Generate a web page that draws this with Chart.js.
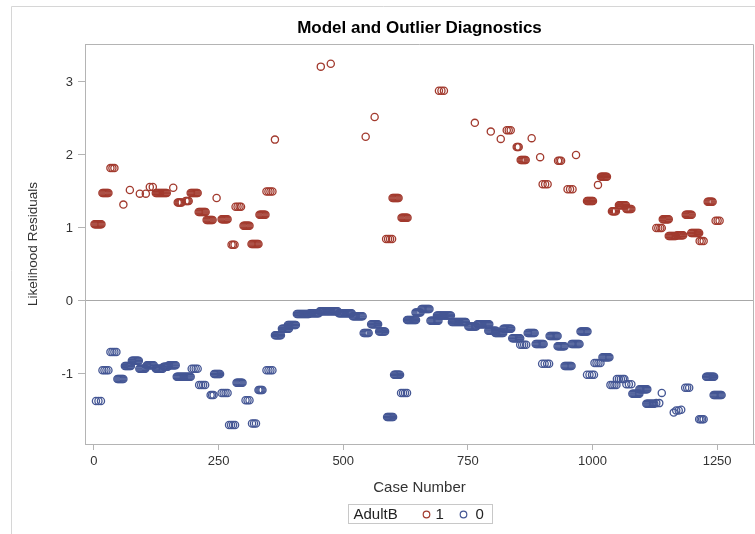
<!DOCTYPE html>
<html>
<head>
<meta charset="utf-8">
<script src="https://cdn.jsdelivr.net/npm/chart.js@4"></script>
<style>
  html, body { margin: 0; padding: 0; background: #fff; }
  #wrap { width: 755px; height: 534px; }
</style>
</head>
<body>
<div id="wrap"><canvas id="diagChart" width="755" height="534"></canvas></div>
<script>
const titleText = 'Model and Outlier Diagnostics';
const xTicks = [0, 250, 500, 750, 1000, 1250];
const yTicks = [-1, 0, 1, 2, 3];
const groupName = 'AdultB';
const groupLabels = ['1', '0'];
const groupColors = ['#A23A2E', '#445694'];

// [residual, [case numbers with that residual]]
const adult1Groups = [
    [1.05, [1, 3, 5, 7, 9, 11, 13, 15]], [1.48, [17, 19, 21, 23, 25, 27, 29]], [1.82, [33, 37, 41]],
    [1.32, [59]], [1.52, [72]], [1.47, [92, 104]], [1.56, [112, 118]],
    [1.48, [124, 126, 128, 130, 132, 134, 136, 138, 140, 142, 144, 146]], [1.55, [159]],
    [1.35, [168, 170, 172, 174, 176]], [1.37, [184, 186, 188, 190]],
    [1.48, [194, 196, 198, 200, 202, 204, 206, 208]],
    [1.22, [210, 212, 214, 216, 218, 220, 222, 224]], [1.11, [226, 228, 230, 232, 234, 236, 238]],
    [1.41, [246]], [1.12, [256, 258, 260, 262, 264, 266, 268]], [1.29, [284, 288, 292, 295]],
    [0.77, [276, 279, 282]], [1.03, [300, 302, 304, 306, 308, 310, 312]],
    [0.78, [316, 318, 320, 322, 324, 326, 328, 330]], [1.18, [332, 334, 336, 338, 340, 342, 344]],
    [1.50, [346, 350, 354, 358]], [2.21, [363]],
    [3.21, [455]], [3.25, [475]], [2.25, [545]], [2.52, [563]],
    [0.85, [586, 590, 594, 598]], [1.41, [599, 601, 603, 605, 607, 609, 611]],
    [1.14, [617, 619, 621, 623, 625, 627, 629]],
    [2.88, [692, 697, 702]], [2.44, [764]], [2.32, [796]], [2.22, [816]], [2.34, [828, 832, 836]],
    [2.11, [848, 850, 852]], [1.93, [856, 858, 860, 862, 864, 866]], [2.23, [878]], [1.97, [895]],
    [1.60, [900, 905, 910]], [1.92, [931, 934, 937]], [1.53, [950, 955, 960]], [2.00, [967]],
    [1.37, [989, 991, 993, 995, 997, 999, 1001]], [1.59, [1011]],
    [1.70, [1017, 1019, 1021, 1023, 1025, 1027, 1029]],
    [1.23, [1039, 1041, 1043, 1045, 1047]], [1.31, [1053, 1055, 1057, 1059, 1061, 1063, 1065, 1067]],
    [1.26, [1068, 1070, 1072, 1074, 1076, 1078]], [1.00, [1128, 1132, 1136, 1139]],
    [1.12, [1141, 1143, 1145, 1147, 1149, 1151, 1153]],
    [0.89, [1153, 1155, 1157, 1159, 1161, 1163, 1165, 1167]],
    [0.90, [1170, 1172, 1174, 1176, 1178, 1180, 1182]],
    [1.18, [1187, 1189, 1191, 1193, 1195, 1197, 1199]],
    [0.93, [1198, 1200, 1202, 1204, 1206, 1208, 1210, 1212, 1214]], [0.82, [1215, 1219, 1223]],
    [1.36, [1231, 1233, 1235, 1237, 1239, 1241]], [1.10, [1247, 1251, 1255]]
];

const adult0Groups = [
    [-1.37, [4, 9, 14]], [-0.95, [17, 21, 25, 29]], [-0.70, [33, 37, 41, 45]],
    [-1.07, [47, 49, 51, 53, 55, 57, 59]], [-0.89, [62, 64, 66, 68, 70, 72, 74]],
    [-0.82, [76, 78, 80, 82, 84, 86, 88, 90]], [-0.93, [91, 93, 95, 97, 99, 101, 103]],
    [-0.88, [106, 108, 110, 112, 114, 116, 118, 120]],
    [-0.93, [124, 126, 128, 130, 132, 134, 136, 138]], [-0.90, [140, 142, 144, 146, 148]],
    [-0.88, [150, 152, 154, 156, 158, 160, 162, 164]],
    [-0.93, [196, 200, 204, 208]],
    [-1.04, [166, 168, 170, 172, 174, 176, 178, 180, 182, 184, 186, 188, 190, 192, 194]],
    [-1.15, [211, 215, 219, 223]], [-1.29, [234, 237, 240]], [-1.26, [256, 260, 264, 268]],
    [-1.00, [241, 243, 245, 247, 249, 251, 253]], [-1.70, [271, 275, 279, 283]],
    [-1.12, [286, 288, 290, 292, 294, 296, 298]], [-1.36, [304, 308, 312]], [-1.68, [317, 321, 325]],
    [-1.22, [330, 332, 334, 336, 338]], [-0.95, [346, 350, 354, 358]],
    [-0.47, [363, 365, 367, 369, 371, 373, 375]],
    [-0.38, [377, 379, 381, 383, 385, 387, 389, 391]],
    [-0.33, [389, 391, 393, 395, 397, 399, 401, 403, 405]],
    [-0.18, [407, 409, 411, 413, 415, 417, 419, 421, 423, 425, 427, 429, 431]],
    [-0.17, [433, 435, 437, 439, 441, 443, 445, 447, 449, 451]],
    [-0.14, [453, 455, 457, 459, 461, 463, 465, 467, 469, 471, 473, 475, 477, 479, 481, 483, 485, 487, 489]],
    [-0.17, [491, 493, 495, 497, 499, 501, 503, 505, 507, 509, 511, 513, 515, 517]],
    [-0.21, [519, 521, 523, 525, 527, 529, 531, 533, 535, 537, 539]],
    [-0.44, [541, 543, 545, 547, 549, 551]],
    [-0.32, [556, 558, 560, 562, 564, 566, 568, 570]],
    [-0.42, [572, 574, 576, 578, 580, 582, 584]],
    [-1.59, [588, 590, 592, 594, 596, 598, 600]],
    [-1.01, [602, 604, 606, 608, 610, 612, 614]],
    [-1.26, [616, 620, 624, 628]],
    [-0.26, [628, 630, 632, 634, 636, 638, 640, 642, 644, 646]],
    [-0.16, [645, 647, 649, 651, 653, 655]],
    [-0.11, [657, 659, 661, 663, 665, 667, 669, 671, 673]],
    [-0.27, [675, 677, 679, 681, 683, 685, 687, 689, 691]],
    [-0.20, [688, 690, 692, 694, 696, 698, 700, 702, 704, 706, 708, 710, 712, 714, 716]],
    [-0.29, [718, 720, 722, 724, 726, 728, 730, 732, 734, 736, 738, 740, 742, 744, 746]],
    [-0.35, [751, 753, 755, 757, 759, 761, 763, 765, 767]],
    [-0.32, [769, 771, 773, 775, 777, 779, 781, 783, 785, 787, 789, 791, 793]],
    [-0.41, [791, 793, 795, 797, 799, 801, 803, 805, 807]],
    [-0.44, [805, 807, 809, 811, 813, 815, 817, 819, 821]],
    [-0.38, [821, 823, 825, 827, 829, 831, 833, 835, 837]],
    [-0.51, [839, 841, 843, 845, 847, 849, 851, 853, 855]],
    [-0.60, [855, 859, 863, 867]],
    [-0.44, [870, 872, 874, 876, 878, 880, 882, 884]],
    [-0.59, [886, 888, 890, 892, 894, 896, 898, 900, 902]],
    [-0.48, [914, 916, 918, 920, 922, 924, 926, 928, 930]],
    [-0.62, [930, 932, 934, 936, 938, 940, 942, 944]],
    [-0.59, [958, 960, 962, 964, 966, 968, 970, 972, 974]],
    [-0.42, [976, 978, 980, 982, 984, 986, 988, 990]],
    [-0.86, [899, 904, 909, 913]],
    [-0.89, [944, 946, 948, 950, 952, 954, 956, 958]],
    [-1.01, [989, 994, 999, 1003]], [-0.85, [1004, 1008, 1012, 1016]],
    [-0.77, [1020, 1022, 1024, 1026, 1028, 1030, 1032, 1034]],
    [-1.15, [1036, 1040, 1044, 1048]], [-1.07, [1049, 1053, 1057, 1061, 1064]],
    [-1.14, [1068, 1073, 1078]],
    [-1.27, [1080, 1082, 1084, 1086, 1088, 1090, 1092, 1094]],
    [-1.21, [1094, 1096, 1098, 1100, 1102, 1104, 1106, 1108, 1110]],
    [-1.41, [1108, 1110, 1112, 1114, 1116, 1118, 1120, 1122, 1124]],
    [-1.40, [1128, 1134]], [-1.26, [1139]],
    [-1.53, [1163]], [-1.50, [1168, 1173]], [-1.49, [1178]],
    [-1.19, [1186, 1190, 1194]], [-1.62, [1214, 1217, 1220, 1223]],
    [-1.04, [1228, 1230, 1232, 1234, 1236, 1238, 1240, 1242, 1244]],
    [-1.29, [1243, 1245, 1247, 1249, 1251, 1253, 1255, 1257, 1259]]
];

const toPoints = groups => groups.flatMap(([y, cases]) => cases.map(x => ({ x: x, y: y })));

const FONT = '"Liberation Sans", Arial, sans-serif';
Chart.defaults.font.family = FONT;

// frame, outer border, title and the inline legend box
const decorations = {
    id: 'decorations',
    afterDraw(chart) {
        const ctx = chart.ctx;
        const a = chart.chartArea;
        const cx = (a.left + a.right) / 2;
        ctx.save();
        ctx.lineWidth = 1;
        ctx.strokeStyle = '#d6d6d6';
        ctx.beginPath();
        ctx.moveTo(11.5, 534);
        ctx.lineTo(11.5, 6.5);
        ctx.lineTo(755, 6.5);
        ctx.stroke();

        ctx.strokeStyle = '#b4b4b4';
        ctx.beginPath();
        ctx.moveTo(a.left, a.top + 0.5);
        ctx.lineTo(a.right - 0.5, a.top + 0.5);
        ctx.lineTo(a.right - 0.5, a.bottom);
        ctx.stroke();

        ctx.fillStyle = '#000';
        ctx.font = 'bold 17px ' + FONT;
        ctx.textAlign = 'center';
        ctx.textBaseline = 'middle';
        ctx.fillText(titleText, cx, 28);

        const bx = Math.round(cx - 72) + 0.5;
        const by = 504.5;
        ctx.lineWidth = 1;
        ctx.strokeStyle = '#c8c8c8';
        ctx.strokeRect(bx, by, 144, 19);
        ctx.font = '15px ' + FONT;
        ctx.textAlign = 'left';
        ctx.fillStyle = '#222';
        ctx.fillText(groupName, bx + 5, by + 10);
        const offs = [[78, 87], [115, 127]];
        chart.data.datasets.forEach((ds, i) => {
            ctx.strokeStyle = ds.borderColor;
            ctx.lineWidth = 1.2;
            ctx.beginPath();
            ctx.arc(bx + offs[i][0], by + 10, 3.3, 0, Math.PI * 2);
            ctx.stroke();
            ctx.fillStyle = '#222';
            ctx.fillText(ds.label, bx + offs[i][1], by + 10);
        });
        ctx.restore();
    }
};

const ctx = document.getElementById('diagChart').getContext('2d');
const chart = new Chart(ctx, {
    type: 'scatter',
    data: {
        datasets: [adult1Groups, adult0Groups].map((g, i) => ({
            label: groupLabels[i],
            data: toPoints(g),
            borderColor: groupColors[i],
            backgroundColor: 'rgba(0,0,0,0)',
            pointRadius: 3.6,
            borderWidth: 1.3,
            pointHoverRadius: 3.6
        }))
    },
    options: {
        responsive: false,
        animation: false,
        layout: { autoPadding: false, padding: { top: 44, left: 0, right: 1, bottom: 34 } },
        scales: {
            x: {
                type: 'linear',
                min: -18,
                max: 1324,
                afterBuildTicks: s => { s.ticks = xTicks.map(v => ({ value: v })); },
                afterFit: s => { s.height = 56; s.paddingLeft = 0; s.paddingRight = 0; },
                grid: { drawOnChartArea: false, color: '#b4b4b4', tickLength: 6 },
                border: { color: '#b4b4b4' },
                ticks: { color: '#333', font: { size: 13 }, padding: 4, maxRotation: 0, callback: v => String(v) },
                title: {
                    display: true,
                    text: 'Case Number',
                    color: '#333',
                    font: { size: 15 },
                    padding: { top: 0, bottom: 3 }
                }
            },
            y: {
                min: -1.96,
                max: 3.52,
                afterBuildTicks: s => { s.ticks = yTicks.map(v => ({ value: v })); },
                afterFit: s => { s.width = 85; s.paddingTop = 0; s.paddingBottom = 0; },
                grid: {
                    color: c => (c.tick && c.tick.value === 0 ? '#a8a8a8' : 'rgba(0,0,0,0)'),
                    tickColor: '#b4b4b4',
                    tickLength: 7
                },
                border: { color: '#b4b4b4' },
                ticks: { color: '#333', font: { size: 13 }, padding: 5, callback: v => String(v) },
                title: {
                    display: true,
                    text: 'Likelihood Residuals',
                    color: '#333',
                    font: { size: 13.5 },
                    padding: { top: 25, bottom: 0 }
                }
            }
        },
        plugins: {
            legend: { display: false },
            tooltip: { enabled: false }
        }
    },
    plugins: [decorations]
});
</script>
</body>
</html>
